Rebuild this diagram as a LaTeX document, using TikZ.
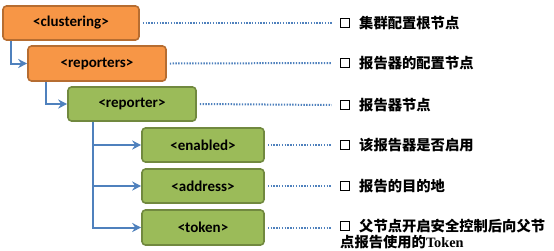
\documentclass[tikz,border=0pt]{standalone}
\usepackage{fontspec}
\setmainfont{Carlito}
\newfontfamily\cjk{Noto Sans CJK SC}
\newfontfamily\serifen{Liberation Serif}
\usetikzlibrary{arrows.meta}
\definecolor{orfill}{HTML}{F79646}
\definecolor{ordraw}{HTML}{B66D31}
\definecolor{grfill}{HTML}{9BBB59}
\definecolor{grdraw}{HTML}{71893F}
\definecolor{conn}{HTML}{4F81BD}
\begin{document}
\begin{tikzpicture}[x=1pt,y=-1pt,
 box/.style={rounded corners=3.5pt, line width=1.6pt, font=\bfseries\fontsize{15}{17}\selectfont, inner sep=0pt},
 orbox/.style={box, fill=orfill, draw=ordraw},
 grbox/.style={box, fill=grfill, draw=grdraw},
 link/.style={draw=conn, line width=2pt, -{Stealth[length=9pt,width=9pt]}},
 dots/.style={draw=conn, line width=2pt, dash pattern=on 1.4pt off 1.4pt},
 sq/.style={draw=black, line width=1.8pt, minimum size=9pt, inner sep=0pt},
 desc/.style={anchor=west, inner sep=0pt, font=\cjk\bfseries\fontsize{14.3}{16}\selectfont, align=left}]
\useasboundingbox (0,0) rectangle (554,250);

\node[orbox, minimum width=136pt, minimum height=34pt] (clu) at (71,23) {<clustering>};
\node[orbox, minimum width=138pt, minimum height=35pt] (rps) at (97,63.5) {<reporters>};
\node[grbox, minimum width=128pt, minimum height=34pt] (rpt) at (132,104) {<reporter>};
\node[grbox, minimum width=122pt, minimum height=34pt] (en) at (203,145) {<enabled>};
\node[grbox, minimum width=122pt, minimum height=34pt] (ad) at (203,186) {<address>};
\node[grbox, minimum width=122pt, minimum height=35pt] (tk) at (203,227.5) {<token>};

\draw[link] ([xshift=9pt]clu.south west) |- (rps.west);
\draw[link] ([xshift=19pt]rps.south west) |- (rpt.west);
\draw[link] ([xshift=26pt]rpt.south west) |- (en.west);
\draw[link] ([xshift=26pt]rpt.south west) |- (ad.west);
\draw[link] ([xshift=26pt]rpt.south west) |- (tk.west);

\node[sq] (s1) at (345,23) {};
\node[sq] (s2) at (345,63) {};
\node[sq] (s3) at (345,105) {};
\node[sq] (s4) at (345,145) {};
\node[sq] (s5) at (345,186) {};
\node[sq] (s6) at (345,226) {};

\draw[dots] ([xshift=3pt]clu.east) -- ([xshift=-8pt]s1.west);
\draw[dots] ([xshift=3pt]rps.east) -- ([xshift=-8pt]s2.west);
\draw[dots] ([xshift=3pt]rpt.east) -- ([xshift=-8pt]s3.west);
\draw[dots] ([xshift=3pt]en.east) -- ([xshift=-8pt]s4.west);
\draw[dots] ([xshift=3pt]ad.east) -- ([xshift=-8pt]s5.west);
\draw[dots] ([xshift=3pt]tk.east) -- ([xshift=-8pt]s6.west |- tk.east);

\node[desc] (d1) at (359,23) {集群配置根节点};
\node[desc] (d2) at (359,63) {报告器的配置节点};
\node[desc] (d3) at (359,105) {报告器节点};
\node[desc] (d4) at (359,145) {该报告器是否启用};
\node[desc] (d5) at (359,186) {报告的目的地};
\node[desc] (d6) at (340,234) {\hspace*{19pt}父节点开启安全控制后向父节\\点报告使用的{\serifen Token}};
\end{tikzpicture}
\end{document}
